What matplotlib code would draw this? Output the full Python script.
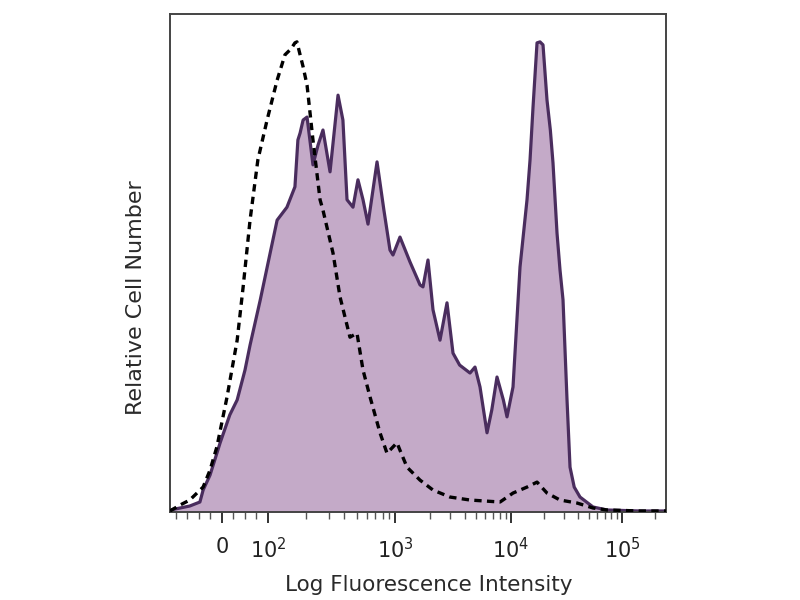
import numpy as np
import matplotlib
matplotlib.use("Agg")
import matplotlib.pyplot as plt
from matplotlib.scale import FuncScale

# ---- data: fluorescence intensity (x) and relative cell number (%, y) ----
stained_x = [-113, -91, -70, -48, -41, -26, -4, 17, 33, 50, 61, 83, 104, 118, 141, 163,
             172, 179, 189, 203, 226, 248, 271, 308, 356, 389, 419, 467, 511, 560, 613,
             722, 818, 913, 964, 1104, 1347, 1643, 1743, 1925, 2126, 2443, 2807, 3162,
             3607, 4432, 4894, 5405, 6211, 6830, 7573, 8590, 9237, 10424, 12054, 13937,
             14840, 15788, 17153, 18250, 19420, 21100, 22610, 23890, 25970, 27630, 29410,
             31960, 34010, 37100, 41840, 54800, 73300, 145000, 249000]
stained_y = [0.4, 0.8, 1.2, 2.0, 4.4, 7.4, 13.9, 19.5, 22.5, 28.5, 33.5, 42.5, 52.0, 58.6,
             61.2, 65.3, 74.7, 76.1, 78.7, 79.3, 69.7, 73.7, 76.7, 68.3, 83.7, 78.7, 62.7,
             61.2, 66.7, 62.7, 57.8, 70.3, 60.6, 52.6, 51.6, 55.2, 50.2, 45.6, 45.2, 50.6,
             40.6, 34.5, 42.0, 31.9, 29.5, 27.9, 29.1, 25.1, 15.9, 20.5, 27.1, 22.5, 19.1,
             25.1, 49.2, 62.7, 70.7, 81.3, 94.2, 94.4, 93.8, 82.7, 76.7, 70.1, 56.0, 48.6,
             42.6, 22.5, 9.0, 5.0, 3.0, 1.0, 0.4, 0.2, 0.2]

control_x = [-113, -91, -70, -41, -26, -11, 11, 33, 46, 61, 78, 98, 118, 136, 152, 163,
             169, 179, 189, 203, 226, 257, 271, 325, 369, 442, 502, 560, 636, 762, 865,
             1040, 1104, 1269, 1643, 2126, 2980, 4432, 8042, 10424, 13937, 17153, 21100,
             27630, 39320, 54800, 73300, 145000, 249000]
control_y = [0.2, 1.4, 2.4, 5.0, 8.4, 13.1, 23.1, 34.5, 45.2, 58.6, 70.7, 78.7, 86.7, 91.8,
             93.0, 94.2, 94.4, 91.8, 89.4, 85.7, 74.7, 62.7, 60.6, 52.0, 43.2, 35.1, 35.9,
             28.5, 23.1, 15.9, 11.8, 13.9, 12.4, 9.0, 6.4, 4.4, 3.0, 2.4, 2.0, 3.8, 5.0,
             6.0, 3.8, 2.4, 1.8, 0.8, 0.4, 0.2, 0.2]

major_vals = [0, 100, 1000, 10000, 100000]
major_labels = ["0", r"$10^2$", r"$10^3$", r"$10^4$", r"$10^5$"]

# ---- biexponential-like display transform ----
_dec = np.array([2.0, 3.0, 4.0, 5.0, 6.0, 9.0])
_pos = np.array([268.0, 395.0, 511.0, 622.0, 733.0, 1066.0])

def forward(v):
    v = np.asarray(v, dtype=float)
    lin = 222.0 + 0.46 * v
    lg = np.interp(np.log10(np.maximum(v, 100.0)), _dec, _pos)
    return np.where(v <= 100, lin, lg)

def inverse(d):
    d = np.asarray(d, dtype=float)
    lin = (d - 222.0) / 0.46
    lg = 10 ** np.interp(np.maximum(d, 268.0), _pos, _dec)
    return np.where(d <= 268, lin, lg)

fig = plt.figure(figsize=(8, 6), dpi=100)
ax = fig.add_axes([0.2125, 0.1467, 0.62, 0.83])
ax.set_xscale(FuncScale(ax, (forward, inverse)))

fill_col = "#c4aac8"
line_col = "#4a2d5e"
ax.fill_between(stained_x, stained_y, 0, color=fill_col, lw=0, zorder=1)
ax.plot(stained_x, stained_y, color=line_col, lw=2.3, zorder=2)
ax.plot(control_x, control_y, color="black", lw=2.4, dashes=(2.2, 1.6), zorder=3)

ax.set_xlim(-113, 249000)
ax.set_ylim(0, 100)

ax.set_xticks(major_vals)
ax.set_xticklabels(major_labels)
minors = [-100, -75, -50, -25, 25, 50, 75]
for e in [100, 1000, 10000, 100000]:
    minors += [k * e for k in range(2, 10) if k * e < 249000]
ax.set_xticks(minors, minor=True)
ax.tick_params(axis="x", which="major", length=8, width=1.3, direction="out",
               labelsize=15, pad=10, colors="#222222")
ax.tick_params(axis="x", which="minor", length=5, width=1.0, direction="out",
               colors="#555555")
ax.set_yticks([])

for s in ax.spines.values():
    s.set_color("#444444")
    s.set_linewidth(1.4)

ax.set_xlabel("Log Fluorescence Intensity", fontsize=15.5, color="#2a2a2a")
ax.xaxis.set_label_coords(0.522, -0.126)
ax.set_ylabel("Relative Cell Number", fontsize=16, color="#2a2a2a")
ax.yaxis.set_label_coords(-0.048, 0.43)

fig.savefig("out.png", dpi=100)
